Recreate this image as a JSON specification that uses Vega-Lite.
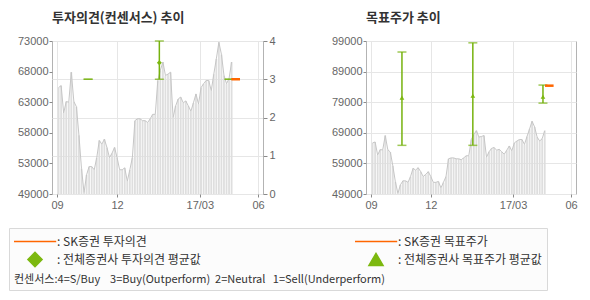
{
  "$schema": "https://vega.github.io/schema/vega-lite/v6.json",
  "padding": {"left": 8, "top": 11, "right": 5, "bottom": 5},
  "background": "white",
  "spacing": 54,
  "datasets": {
    "price": [
      {"t":0,"p":65700},{"t":1,"p":66000},{"t":2,"p":61700},{"t":3,"p":63500},{"t":4,"p":63400},
      {"t":5,"p":68100},{"t":6,"p":63500},{"t":7,"p":62700},{"t":8,"p":58200},{"t":9,"p":53000},
      {"t":10,"p":49200},{"t":11,"p":52000},{"t":12,"p":53300},{"t":13,"p":53300},{"t":14,"p":52800},
      {"t":15,"p":54700},{"t":16,"p":57400},{"t":17,"p":56800},{"t":18,"p":57600},{"t":19,"p":56300},
      {"t":20,"p":54700},{"t":21,"p":55400},{"t":22,"p":56300},{"t":23,"p":54700},{"t":24,"p":52800},
      {"t":25,"p":52800},{"t":26,"p":53100},{"t":27,"p":51000},{"t":28,"p":52800},{"t":29,"p":54700},
      {"t":30,"p":60500},{"t":31,"p":60800},{"t":32,"p":60800},{"t":33,"p":60500},{"t":34,"p":60500},
      {"t":35,"p":60200},{"t":36,"p":60800},{"t":37,"p":61500},{"t":38,"p":61500},{"t":39,"p":66800},
      {"t":40,"p":68400},{"t":41,"p":69700},{"t":42,"p":67600},{"t":43,"p":67800},{"t":44,"p":68100},
      {"t":45,"p":61000},{"t":46,"p":62800},{"t":47,"p":63900},{"t":48,"p":64200},{"t":49,"p":63300},
      {"t":50,"p":63600},{"t":51,"p":62800},{"t":52,"p":62000},{"t":53,"p":63300},{"t":54,"p":64700},
      {"t":55,"p":63100},{"t":56,"p":65700},{"t":57,"p":66300},{"t":58,"p":66800},{"t":59,"p":66800},
      {"t":60,"p":65200},{"t":61,"p":67800},{"t":62,"p":70200},{"t":63,"p":72800},{"t":64,"p":70900},
      {"t":65,"p":67600},{"t":66,"p":66300},{"t":67,"p":67100},{"t":68,"p":69700}
    ],
    "opinion": [
      {"t":11.6,"lo":3,"hi":3,"avg":null},
      {"t":39.6,"lo":3,"hi":4,"avg":3.43},
      {"t":67,"lo":3,"hi":3,"avg":null}
    ],
    "target": [
      {"t":11.6,"lo":64900,"hi":95400,"avg":80500},
      {"t":39.6,"lo":64900,"hi":98400,"avg":81100},
      {"t":67.3,"lo":78700,"hi":84600,"avg":80800}
    ],
    "sk_op": [{"t1":67.9,"t2":71.3,"v":3}],
    "sk_tp": [{"t1":68.1,"t2":71.5,"v":84400}]
  },
  "hconcat": [
    {
      "width": 211,
      "height": 153,
      "title": {"text": "투자의견(컨센서스) 추이"},
      "layer": [
        {
          "data": {"name": "price"},
          "layer": [
            {
              "mark": {"type": "bar", "color": "#dedede", "size": 1.8},
              "encoding": {
                "x": {"field": "t", "type": "quantitative", "title": null,
                  "scale": {"domain": [-0.625, 78.375], "nice": false, "zero": false},
                  "axis": {"values": [-0.625, 23, 55.5, 78.375], "tickCount": 20, "labelExpr": "datum.value < 0 ? '09' : datum.value < 40 ? '12' : datum.value < 70 ? '17/03' : '06'", "grid": true, "tickSize": 3, "labelPadding": 2, "labelFlush": false, "labelOverlap": false}},
                "y": {"field": "p", "type": "quantitative", "title": null,
                  "scale": {"domain": [49000, 73000], "nice": false, "zero": false},
                  "axis": {"orient": "left", "values": [49000, 53800, 58600, 63400, 68200, 73000], "tickCount": 20, "labelExpr": "format(floor(datum.value/1000)*1000, 'd')", "grid": false, "tickSize": 3, "labelPadding": 1, "labelOverlap": false}},
                "y2": {"datum": 49000}
              }
            },
            {
              "mark": {"type": "line", "color": "#c6c6c6", "strokeWidth": 1},
              "encoding": {
                "x": {"field": "t", "type": "quantitative", "title": null},
                "y": {"field": "p", "type": "quantitative", "title": null}
              }
            }
          ]
        },
        {
          "layer": [
            {
              "data": {"name": "opinion"},
              "mark": {"type": "rule", "color": "#76b20e", "strokeWidth": 1.5},
              "encoding": {
                "x": {"field": "t", "type": "quantitative", "title": null},
                "y": {"field": "lo", "type": "quantitative", "title": null,
                  "scale": {"domain": [0, 4], "nice": false},
                  "axis": {"orient": "right", "values": [0, 1, 2, 3, 4], "tickCount": 20, "format": "d", "grid": true, "tickSize": 4, "labelPadding": 2, "labelOverlap": false}},
                "y2": {"field": "hi"}
              }
            },
            {
              "data": {"name": "opinion"},
              "mark": {"type": "tick", "orient": "horizontal", "color": "#76b20e", "size": 9, "thickness": 1.5},
              "encoding": {
                "x": {"field": "t", "type": "quantitative", "title": null},
                "y": {"field": "lo", "type": "quantitative", "title": null}
              }
            },
            {
              "data": {"name": "opinion"},
              "mark": {"type": "tick", "orient": "horizontal", "color": "#76b20e", "size": 9, "thickness": 1.5},
              "encoding": {
                "x": {"field": "t", "type": "quantitative", "title": null},
                "y": {"field": "hi", "type": "quantitative", "title": null}
              }
            },
            {
              "data": {"name": "opinion"},
              "mark": {"type": "point", "filled": true, "size": 25, "opacity": 1},
              "encoding": {
                "x": {"field": "t", "type": "quantitative", "title": null},
                "y": {"field": "avg", "type": "quantitative", "title": null},
                "color": {"datum": ": 전체증권사 투자의견 평균값"},
                "shape": {"datum": ": 전체증권사 투자의견 평균값",
                  "scale": {"domain": [": SK증권 투자의견", ": 전체증권사 투자의견 평균값", ": SK증권 목표주가", ": 전체증권사 목표주가 평균값"], "range": ["M-3,0H3", "diamond", "M-3,0H3", "triangle-up"]},
                  "legend": {"orient": "none", "legendX": -43, "legendY": 187, "title": "컨센서스:4=S/Buy\u00a0\u00a0\u00a0\u00a03=Buy(Outperform)\u00a0\u00a02=Neutral\u00a0\u00a0\u00a01=Sell(Underperform)"}}
              }
            },
            {
              "data": {"name": "sk_op"},
              "mark": {"type": "rule", "strokeWidth": 2.5},
              "encoding": {
                "x": {"field": "t1", "type": "quantitative", "title": null},
                "x2": {"field": "t2"},
                "y": {"field": "v", "type": "quantitative", "title": null},
                "color": {"datum": ": SK증권 투자의견",
                  "scale": {"domain": [": SK증권 투자의견", ": 전체증권사 투자의견 평균값", ": SK증권 목표주가", ": 전체증권사 목표주가 평균값"], "range": ["#ff6600", "#7cb80f", "#ff6600", "#7cb80f"]},
                  "legend": {"orient": "none", "legendX": -43, "legendY": 187, "title": "컨센서스:4=S/Buy\u00a0\u00a0\u00a0\u00a03=Buy(Outperform)\u00a0\u00a02=Neutral\u00a0\u00a0\u00a01=Sell(Underperform)"}}
              }
            }
          ]
        }
      ],
      "resolve": {"scale": {"y": "independent"}}
    },
    {
      "width": 210,
      "height": 153,
      "title": {"text": "목표주가 추이"},
      "layer": [
        {
          "data": {"name": "price"},
          "mark": {"type": "bar", "color": "#dedede", "size": 1.8},
          "encoding": {
            "x": {"field": "t", "type": "quantitative", "title": null,
              "scale": {"domain": [-0.625, 78.375], "nice": false, "zero": false},
              "axis": {"values": [-0.625, 23, 55.5, 78.375], "tickCount": 20, "labelExpr": "datum.value < 0 ? '09' : datum.value < 40 ? '12' : datum.value < 70 ? '17/03' : '06'", "grid": true, "tickSize": 3, "labelPadding": 2, "labelFlush": false, "labelOverlap": false}},
            "y": {"field": "p", "type": "quantitative", "title": null,
              "scale": {"domain": [49000, 99000], "nice": false, "zero": false},
              "axis": {"orient": "left", "values": [49000, 59000, 69000, 79000, 89000, 99000], "tickCount": 20, "format": "d", "grid": true, "tickSize": 3, "labelPadding": 1, "labelOverlap": false}},
            "y2": {"datum": 49000}
          }
        },
        {
          "data": {"name": "price"},
          "mark": {"type": "line", "color": "#c6c6c6", "strokeWidth": 1},
          "encoding": {
            "x": {"field": "t", "type": "quantitative", "title": null},
            "y": {"field": "p", "type": "quantitative", "title": null}
          }
        },
        {
          "data": {"name": "target"},
          "mark": {"type": "rule", "color": "#76b20e", "strokeWidth": 1.5},
          "encoding": {
            "x": {"field": "t", "type": "quantitative", "title": null},
            "y": {"field": "lo", "type": "quantitative", "title": null},
            "y2": {"field": "hi"}
          }
        },
        {
          "data": {"name": "target"},
          "mark": {"type": "tick", "orient": "horizontal", "color": "#76b20e", "size": 9, "thickness": 1.5},
          "encoding": {
            "x": {"field": "t", "type": "quantitative", "title": null},
            "y": {"field": "lo", "type": "quantitative", "title": null}
          }
        },
        {
          "data": {"name": "target"},
          "mark": {"type": "tick", "orient": "horizontal", "color": "#76b20e", "size": 9, "thickness": 1.5},
          "encoding": {
            "x": {"field": "t", "type": "quantitative", "title": null},
            "y": {"field": "hi", "type": "quantitative", "title": null}
          }
        },
        {
          "data": {"name": "target"},
          "mark": {"type": "point", "filled": true, "size": 22, "opacity": 1},
          "encoding": {
            "x": {"field": "t", "type": "quantitative", "title": null},
            "y": {"field": "avg", "type": "quantitative", "title": null},
            "color": {"datum": ": 전체증권사 목표주가 평균값"},
            "shape": {"datum": ": 전체증권사 목표주가 평균값"}
          }
        },
        {
          "data": {"name": "sk_tp"},
          "mark": {"type": "rule", "strokeWidth": 2.5},
          "encoding": {
            "x": {"field": "t1", "type": "quantitative", "title": null},
            "x2": {"field": "t2"},
            "y": {"field": "v", "type": "quantitative", "title": null},
            "color": {"datum": ": SK증권 목표주가"}
          }
        }
      ]
    }
  ],
  "config": {
    "view": {"stroke": "#b3b3b3"},
    "axis": {"labelFont": "Liberation Sans", "labelFontSize": 11, "labelColor": "#666666", "tickColor": "#8a8a8a", "gridColor": "#e6e6e6", "domain": false},
    "title": {"font": "Noto Sans CJK KR", "fontSize": 13, "fontWeight": "bold", "color": "#333333", "anchor": "start", "frame": "group", "offset": 10},
    "legend": {
      "symbolSize": 200,
      "labelFont": "Noto Sans CJK KR", "labelFontSize": 12, "labelColor": "#333333", "labelLimit": 300,
      "titleFont": "Noto Sans CJK KR", "titleFontSize": 11, "titleColor": "#333333", "titleFontWeight": "normal",
      "titleOrient": "bottom", "titleAnchor": "start", "titleLimit": 600, "titlePadding": 6,
      "padding": 5, "fillColor": "#fcfcfc", "strokeColor": "#d9d9d9",
      "columns": 2, "columnPadding": 154, "rowPadding": 1, "clipHeight": 17,
      "symbolOffset": 13, "labelOffset": 14,
      "encode": {"symbols": {"update": {"stroke": {"scale": "color", "field": "value"}, "strokeWidth": {"value": 2}, "fill": {"scale": "color", "field": "value"}, "shape": {"scale": "shape", "field": "value"}, "opacity": {"value": 1}}}}
    }
  }
}
